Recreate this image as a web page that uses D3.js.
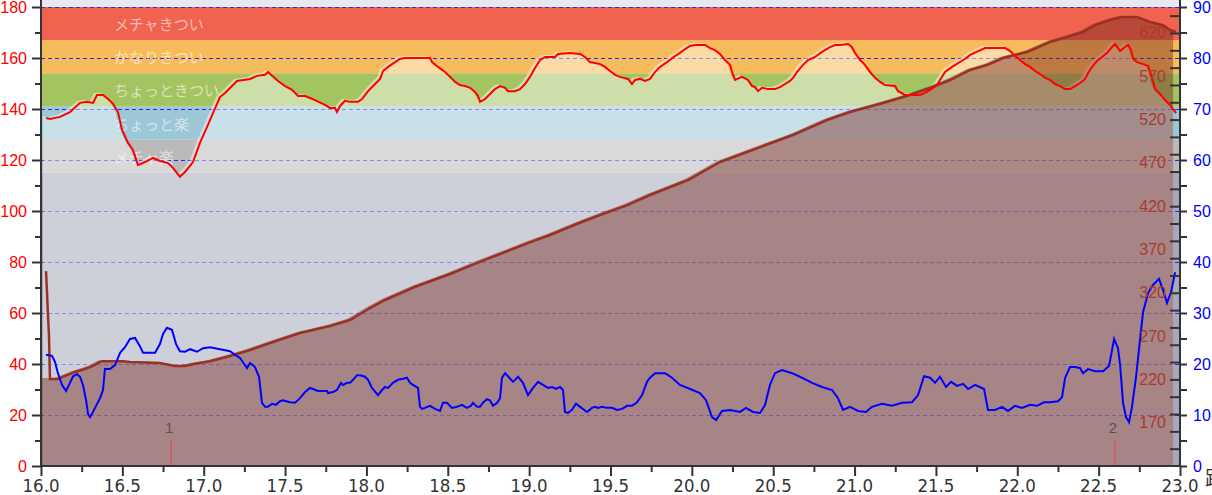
<!DOCTYPE html>
<html><head><meta charset="utf-8">
<script src="https://cdn.jsdelivr.net/npm/d3@7"></script>
<style>body{margin:0;background:#fff;overflow:hidden}svg{display:block}</style>
</head><body><svg id="c" width="1212" height="495"></svg>
<script>
// ---- data ----
const zoneBounds = [115, 128, 141, 154, 167, 180];
const zoneNames = ["メチャ楽", "ちょっと楽", "ちょっときつい", "かなりきつい", "メチャきつい"];
const zoneColors = ["#bababa", "#9cc7d6", "#a4c462", "#f6bc5c", "#f0634f"];

// heart rate [km, bpm]
const hrKm = [16.031,16.055,16.117,16.178,16.240,16.283,16.320,16.344,16.381,16.412,16.443,16.473,16.498,16.535,16.565,16.596,16.639,16.688,16.731,16.781,16.811,16.854,16.885,16.934,16.977,17.020,17.057,17.100,17.131,17.205,17.285,17.328,17.377,17.395,17.420,17.457,17.500,17.543,17.580,17.623,17.653,17.684,17.745,17.776,17.807,17.819,17.838,17.868,17.899,17.948,17.973,18.010,18.053,18.084,18.102,18.133,18.176,18.206,18.237,18.391,18.403,18.440,18.483,18.514,18.545,18.575,18.606,18.637,18.667,18.686,18.698,18.729,18.760,18.790,18.821,18.852,18.870,18.913,18.944,18.975,19.005,19.036,19.067,19.098,19.159,19.178,19.251,19.313,19.343,19.374,19.405,19.436,19.466,19.497,19.528,19.558,19.608,19.632,19.651,19.681,19.712,19.743,19.774,19.804,19.847,19.897,19.927,19.958,19.989,20.019,20.081,20.112,20.142,20.173,20.204,20.235,20.247,20.265,20.308,20.345,20.370,20.388,20.407,20.431,20.468,20.511,20.542,20.573,20.603,20.622,20.646,20.683,20.714,20.757,20.800,20.849,20.880,20.911,20.960,20.984,21.003,21.034,21.064,21.095,21.126,21.157,21.187,21.249,21.267,21.310,21.402,21.433,21.464,21.482,21.507,21.525,21.556,21.599,21.636,21.679,21.710,21.759,21.802,21.925,21.956,21.986,22.017,22.048,22.078,22.109,22.140,22.171,22.201,22.232,22.263,22.294,22.324,22.355,22.386,22.417,22.435,22.459,22.490,22.521,22.552,22.582,22.601,22.619,22.632,22.662,22.681,22.699,22.712,22.736,22.773,22.804,22.828,22.847,22.877,22.908,22.939,22.976];
const hrBpm = [136.5,136.1,136.9,138.8,142.4,142.8,142.4,145.5,145.5,143.9,142.0,138.8,131.8,126.7,123.9,118.0,119.2,120.8,119.6,118.8,116.9,113.4,115.3,119.2,126.7,132.9,138.4,144.7,146.3,151.0,151.8,153.0,153.4,154.5,153.0,151.0,149.0,147.5,145.1,145.1,144.3,143.5,141.6,140.4,140.4,138.8,141.2,143.2,142.8,142.8,143.9,147.0,149.8,151.8,154.9,156.5,158.4,159.6,160.0,160.0,158.4,156.5,154.5,152.6,150.6,149.4,149.0,148.3,146.7,145.1,142.8,143.9,145.9,147.8,149.0,148.3,147.0,147.0,147.8,149.8,152.6,156.1,159.2,160.4,160.4,161.6,162.0,161.6,160.4,158.4,158.0,157.6,156.5,154.9,153.4,152.6,151.8,149.8,151.4,151.8,151.0,151.8,154.5,156.5,158.4,160.8,162.0,163.5,164.7,165.1,165.1,163.9,163.1,161.6,159.2,157.3,154.5,151.4,152.6,151.4,149.0,148.6,147.0,148.3,147.8,147.8,148.6,149.8,151.0,152.2,154.5,157.3,159.2,160.4,162.4,164.3,165.1,165.1,165.5,164.3,162.0,159.2,157.3,154.5,152.2,150.6,149.4,149.0,147.0,145.5,145.5,146.3,147.5,148.3,149.4,151.4,154.5,156.5,158.0,159.6,161.2,162.7,163.9,163.9,162.7,160.8,159.2,157.6,156.5,154.9,153.7,152.2,151.4,149.8,149.0,147.8,147.8,149.0,150.2,151.8,154.1,156.5,158.8,160.4,162.0,164.3,165.5,163.9,162.7,164.3,165.1,163.1,159.6,158.4,157.6,156.9,152.2,147.8,145.9,143.5,141.6,138.4];

// elevation [km, m]
const eleKm = [16.031,16.037,16.043,16.049,16.055,16.104,16.148,16.209,16.270,16.320,16.350,16.375,16.504,16.547,16.731,16.824,16.885,16.946,17.039,17.162,17.285,17.407,17.592,17.776,17.899,17.961,18.022,18.114,18.300,18.514,18.700,18.821,19.000,19.128,19.300,19.436,19.600,19.743,19.977,20.173,20.339,20.622,20.831,20.972,21.175,21.341,21.464,21.587,21.710,21.814,21.913,22.060,22.201,22.306,22.404,22.478,22.570,22.644,22.736,22.816,22.896,22.939,22.976];
const eleM = [345,320,294,271,220.5,220.5,224,228.5,232,235.5,239,241,241,240,239,235.5,235.5,238,241,247,254,262,273.6,281.7,288.6,295.5,302.4,311.7,327,341.7,356,364.8,378,386.7,400,409.8,421,432.9,450.2,471,482.6,502.2,519.5,528.8,539.2,548.4,556.5,565.7,577.3,583,591.1,598,609.6,615.4,621.1,629,635,638.5,638.5,632.7,629,623.4,621.1];

// speed [km, km/h]
const spdKm = [16.031,16.068,16.086,16.104,16.129,16.154,16.178,16.197,16.221,16.240,16.258,16.277,16.289,16.301,16.320,16.332,16.363,16.381,16.393,16.424,16.455,16.486,16.516,16.547,16.578,16.608,16.627,16.701,16.731,16.750,16.774,16.805,16.830,16.854,16.885,16.916,16.959,16.996,17.039,17.100,17.162,17.192,17.223,17.266,17.285,17.315,17.340,17.358,17.377,17.395,17.420,17.444,17.469,17.487,17.530,17.561,17.592,17.623,17.653,17.672,17.702,17.758,17.764,17.795,17.819,17.844,17.856,17.881,17.899,17.918,17.942,17.961,17.991,18.010,18.034,18.071,18.096,18.114,18.133,18.163,18.194,18.225,18.249,18.268,18.286,18.317,18.329,18.342,18.360,18.391,18.422,18.452,18.471,18.495,18.526,18.557,18.587,18.618,18.643,18.655,18.680,18.698,18.716,18.741,18.759,18.778,18.803,18.821,18.833,18.852,18.870,18.901,18.932,18.962,18.993,19.024,19.055,19.085,19.116,19.141,19.165,19.190,19.208,19.220,19.239,19.263,19.288,19.313,19.356,19.386,19.405,19.423,19.448,19.479,19.509,19.540,19.571,19.602,19.632,19.663,19.694,19.724,19.743,19.774,19.835,19.878,19.927,19.989,20.050,20.087,20.124,20.149,20.185,20.235,20.296,20.333,20.376,20.419,20.450,20.480,20.511,20.554,20.616,20.677,20.739,20.800,20.862,20.898,20.929,20.972,21.021,21.070,21.107,21.169,21.230,21.292,21.353,21.390,21.427,21.464,21.495,21.525,21.562,21.593,21.630,21.667,21.698,21.740,21.796,21.820,21.863,21.906,21.943,21.986,22.029,22.078,22.121,22.164,22.201,22.250,22.275,22.294,22.324,22.355,22.386,22.404,22.435,22.478,22.527,22.564,22.595,22.619,22.632,22.650,22.668,22.687,22.705,22.730,22.754,22.773,22.804,22.834,22.871,22.896,22.920,22.945,22.970];
const spdKmh = [21.8,21.6,20.4,18.2,15.9,14.7,16.3,17.6,18.0,17.5,15.9,12.9,10.2,9.6,10.6,11.4,13.3,14.9,19.0,19.0,19.8,22.2,23.3,24.9,25.1,23.5,22.2,22.2,23.9,25.9,27.1,26.7,23.9,22.5,22.4,22.9,22.4,23.1,23.3,22.9,22.5,21.8,21.2,19.2,20.2,19.4,17.5,12.4,11.6,11.6,12.2,12.0,12.7,12.9,12.5,12.4,13.3,14.5,15.3,15.1,14.7,14.7,14.3,14.5,14.9,16.3,15.9,16.3,16.3,16.9,17.8,17.8,17.5,16.9,15.3,13.9,14.9,15.5,15.3,16.3,16.9,17.1,17.3,16.3,15.9,15.3,11.6,11.2,11.4,11.8,11.2,10.8,12.4,12.4,11.4,11.6,12.0,11.4,11.8,12.4,11.6,11.6,12.4,13.1,12.9,11.8,12.4,13.3,17.3,18.2,17.6,16.5,17.5,16.3,13.9,15.3,16.5,15.9,15.3,15.5,15.1,15.5,14.9,10.6,10.4,11.0,12.2,11.6,10.6,11.4,11.6,11.4,11.6,11.4,11.4,11.0,11.2,11.8,11.8,12.5,13.9,16.5,17.3,18.2,18.2,17.3,15.9,15.1,14.3,12.9,9.6,9.0,10.8,11.0,10.6,11.4,10.6,10.4,12.0,15.9,18.2,18.8,18.2,17.3,16.3,15.5,14.9,13.3,11.0,11.6,10.8,10.6,11.6,12.2,11.8,12.4,12.5,13.9,17.6,17.3,16.3,17.5,15.5,16.5,15.7,16.1,15.1,15.9,15.1,11.0,11.0,11.6,10.8,11.8,11.4,12.0,11.8,12.5,12.5,12.7,13.5,17.3,19.4,19.4,19.2,18.2,19.0,18.6,18.6,19.6,24.9,23.1,19.8,12.4,9.6,8.6,11.6,17.5,24.7,30.2,33.9,35.5,36.7,34.5,32.0,34.1,38.0];

const lapKm = [16.8, 22.6];
const lapLabels = ["1", "2"];
const hrTicks = [0, 20, 40, 60, 80, 100, 120, 140, 160, 180];
const spdTicks = [0, 10, 20, 30, 40, 50, 60, 70, 80, 90];
const eleLabels = [170, 220, 270, 320, 370, 420, 470, 520, 570, 620];
const kmTicks = [16.0, 16.5, 17.0, 17.5, 18.0, 18.5, 19.0, 19.5, 20.0, 20.5, 21.0, 21.5, 22.0, 22.5, 23.0];

// ---- chart ----
const L = 41, R = 1180, T = 0, B = 466;
const svg = d3.select("#c");
const x = d3.scaleLinear().domain([16, 23]).range([L, R]);
const yHR = d3.scaleLinear().domain([0, 180]).range([B, 7]);
const ySpd = d3.scaleLinear().domain([0, 90]).range([B, 7]);
const yEle = d3.scaleLinear().domain([120, 650]).range([B, 7]);

const hr = hrKm.map((k, i) => [k, hrBpm[i]]);
const ele = eleKm.map((k, i) => [k, eleM[i]]);
const spd = spdKm.map((k, i) => [k, spdKmh[i]]);

svg.append("defs").append("clipPath").attr("id", "pc")
  .append("rect").attr("x", L).attr("y", T).attr("width", R - L).attr("height", B - T);
const g = svg.append("g").attr("clip-path", "url(#pc)");

g.append("rect").attr("x", L).attr("y", T).attr("width", R - L).attr("height", B - T).attr("fill", "#e8e8f0");
g.append("rect").attr("x", L).attr("width", R - L)
  .attr("y", yHR(zoneBounds[0])).attr("height", B - yHR(zoneBounds[0])).attr("fill", "#a6a9bb");
zoneColors.forEach((c, i) => {
  g.append("rect").attr("x", L).attr("width", R - L)
    .attr("y", yHR(zoneBounds[i + 1])).attr("height", yHR(zoneBounds[i]) - yHR(zoneBounds[i + 1]))
    .attr("fill", c);
});
// grid
g.selectAll(".grid").data(hrTicks.filter(d => d > 0)).join("line")
  .attr("x1", L).attr("x2", R).attr("y1", d => Math.round(yHR(d)) + 0.5).attr("y2", d => Math.round(yHR(d)) + 0.5)
  .attr("stroke", "#2828f0").attr("stroke-width", 1).attr("stroke-dasharray", "4,3");

// HR fill (lightening)
const hrArea = d3.area().x(d => x(d[0])).y0(B + 5).y1(d => yHR(d[1]));
g.append("path").datum(hr).attr("d", hrArea).attr("fill", "#fff").attr("fill-opacity", 0.45)
  .attr("transform", "translate(-3,-2)");

// zone labels
zoneNames.forEach((n, i) => {
  g.append("text").attr("x", 114).attr("y", (yHR(zoneBounds[i]) + yHR(zoneBounds[i + 1])) / 2)
    .attr("dominant-baseline", "central")
    .attr("font-family", "'Noto Sans CJK JP', sans-serif").attr("font-size", 15)
    .attr("fill", "#fff").attr("fill-opacity", 0.58).text(n);
});

// elevation
const eleFill = [[16.0, eleM[4]]].concat(ele.slice(4));
const eArea = d3.area().x(d => x(d[0])).y0(B + 5).y1(d => yEle(d[1]));
g.append("path").datum(eleFill).attr("d", eArea).attr("fill", "rgb(120,40,30)").attr("fill-opacity", 0.45)
  .attr("transform", "translate(-3,-1)");
g.append("path").datum(ele).attr("d", d3.line().x(d => x(d[0])).y(d => yEle(d[1])))
  .attr("fill", "none").attr("stroke", "#9b3125").attr("stroke-width", 2.5);

// HR line
g.append("path").datum(hr).attr("d", d3.line().x(d => x(d[0])).y(d => yHR(d[1])))
  .attr("fill", "none").attr("stroke", "#ff0000").attr("stroke-width", 2);

// speed line
g.append("path").datum(spd).attr("d", d3.line().x(d => x(d[0])).y(d => ySpd(d[1])))
  .attr("fill", "none").attr("stroke", "#0000ff").attr("stroke-width", 2);

// elevation labels
g.selectAll(".el").data(eleLabels).join("text")
  .attr("x", 1166).attr("y", d => yEle(d)).attr("text-anchor", "end").attr("dominant-baseline", "central")
  .attr("font-family", "'Liberation Sans', Arial, sans-serif").attr("font-size", 16)
  .attr("fill", "#a83c2c").text(d => d);

// laps
lapKm.forEach((k, i) => {
  g.append("line").attr("x1", x(k)).attr("x2", x(k)).attr("y1", 440).attr("y2", B)
    .attr("stroke", "#e04848").attr("stroke-width", 1);
  g.append("text").attr("x", x(k) - 2).attr("y", 427).attr("text-anchor", "middle").attr("dominant-baseline", "central")
    .attr("font-family", "'Liberation Sans', Arial, sans-serif").attr("font-size", 15).attr("fill", "#555").text(lapLabels[i]);
});

// ---- axes ----
const axisCol = "#333";
const font = "'Liberation Sans', Arial, sans-serif";
// left
const leftAx = d3.axisLeft(yHR).tickValues(d3.range(0, 181, 10)).tickSize(6).tickFormat("");
const gl = svg.append("g").attr("transform", `translate(${L},0)`).call(leftAx);
gl.select(".domain").remove();
gl.selectAll(".tick line").attr("stroke", axisCol).attr("stroke-width", 2)
  .attr("x2", d => d % 20 === 0 ? -9 : -6);
svg.selectAll(".hrl").data(hrTicks).join("text").attr("x", 27).attr("y", d => yHR(d))
  .attr("text-anchor", "end").attr("dominant-baseline", "central")
  .attr("font-family", font).attr("font-size", 16).attr("fill", "#ff0000").text(d => d);
svg.append("line").attr("x1", L).attr("x2", L).attr("y1", 0).attr("y2", B + 1).attr("stroke", axisCol).attr("stroke-width", 2);

// right (speed outside, elevation inside)
const gr = svg.append("g").attr("transform", `translate(${R},0)`).call(
  d3.axisRight(ySpd).tickValues(d3.range(0, 91, 5)).tickSize(7).tickFormat(""));
gr.select(".domain").remove();
gr.selectAll(".tick line").attr("stroke", axisCol).attr("stroke-width", 2);
const ge = svg.append("g").attr("transform", `translate(${R},0)`).call(
  d3.axisLeft(yEle).tickValues(d3.range(140, 641, 20)).tickSize(10).tickFormat(""));
ge.select(".domain").remove();
ge.selectAll(".tick line").attr("stroke", axisCol).attr("stroke-width", 2);
svg.selectAll(".spl").data(spdTicks).join("text").attr("x", 1193).attr("y", d => ySpd(d))
  .attr("dominant-baseline", "central")
  .attr("font-family", font).attr("font-size", 16).attr("fill", "#0000ff").text(d => d);
svg.append("line").attr("x1", R).attr("x2", R).attr("y1", 0).attr("y2", B + 1).attr("stroke", axisCol).attr("stroke-width", 2);

// bottom
const gb = svg.append("g").attr("transform", `translate(0,${B})`).call(
  d3.axisBottom(x).tickValues(d3.range(16, 23.01, 0.25)).tickSize(10).tickFormat(""));
gb.select(".domain").remove();
gb.selectAll(".tick line").attr("stroke", axisCol).attr("stroke-width", 2)
  .attr("y2", d => Math.abs(d * 2 - Math.round(d * 2)) < 1e-6 ? 10 : 6);
svg.append("line").attr("x1", L - 1).attr("x2", R + 1).attr("y1", B).attr("y2", B).attr("stroke", axisCol).attr("stroke-width", 2);
svg.selectAll(".kml").data(kmTicks).join("text").attr("x", d => x(d)).attr("y", 492)
  .attr("text-anchor", "middle")
  .attr("font-family", "'Liberation Sans Narrow', 'DejaVu Sans Condensed', sans-serif").attr("font-size", 18.5)
  .attr("fill", "#333").text(d => d3.format(".1f")(d));
svg.append("text").attr("x", 1205).attr("y", 486).attr("font-family", "'Noto Sans CJK JP', sans-serif")
  .attr("font-size", 20).attr("fill", "#333").text("距離");
</script></body></html>
